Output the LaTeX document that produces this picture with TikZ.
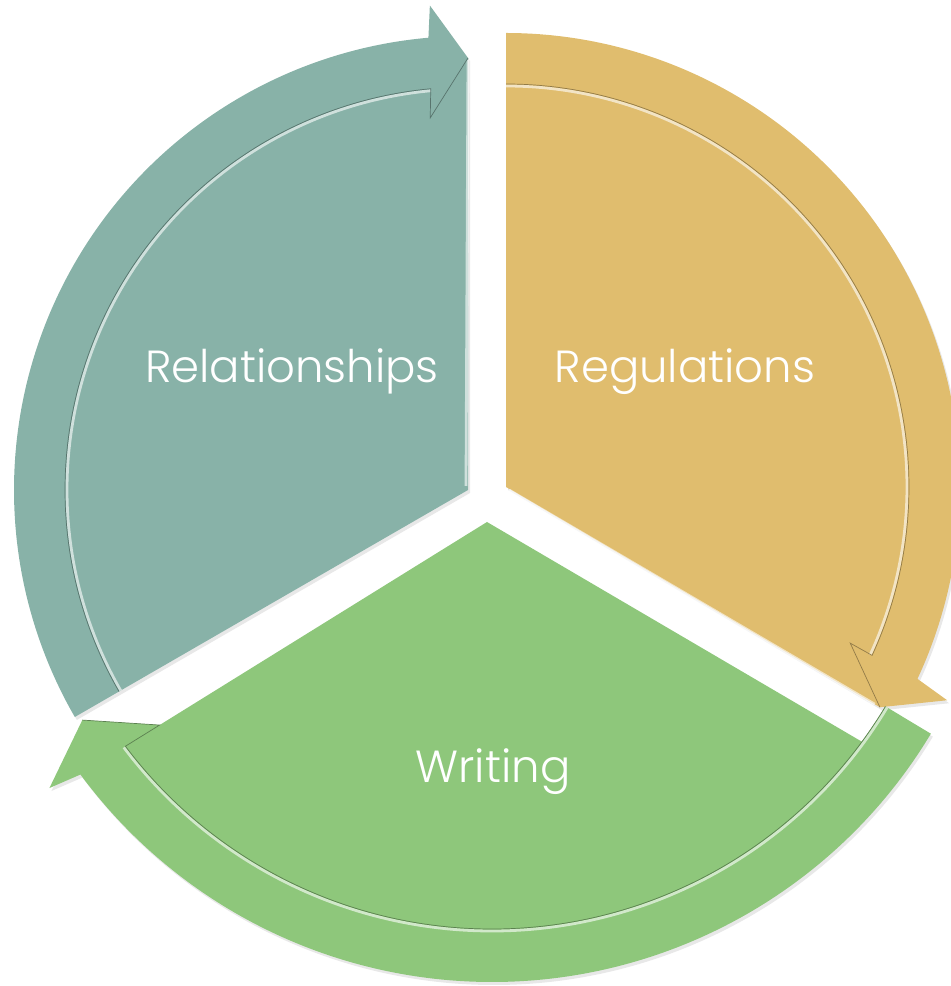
\documentclass[tikz,border=0pt]{standalone}
\usepackage{fontspec}
\setmainfont{Poppins}[UprightFont=* Light]
\usetikzlibrary{shadows}
\definecolor{relcol}{HTML}{88B2A8}
\definecolor{regcol}{HTML}{E0BD6E}
\definecolor{wricol}{HTML}{8EC77B}
\begin{document}
\begin{tikzpicture}[x=.5pt,y=.5pt,
	seg/.style={fill=#1,drop shadow={opacity=.18,shadow xshift=1pt,shadow yshift=-1.5pt}},
	rim/.style={draw=#1!65!black,line width=.35pt},
	shine/.style={draw=white,opacity=.6,line width=1.4pt,line join=round},
	lbl/.style={text=white,anchor=base,font=\fontsize{22.5}{27}\selectfont}]
	\useasboundingbox(0,0)rectangle(951,986);
	\begin{scope}[shift={(468,496)}]
		\path[seg=relcol](0,0)--(210:454)arc[start angle=210,end angle=95,radius=454]--(94.5:486)--(90:432)--cycle;
		\draw[shine](-2,4)--(90:430);
		\draw[shine](210:401)arc[start angle=210,end angle=95.3,radius=401];
		\draw[rim=relcol](210:403)arc[start angle=210,end angle=95.3,radius=403]--(95.8:374)--(90:432);
	\end{scope}
	\begin{scope}[shift={(506,499)}]
		\path[seg=regcol](0,0)--(90:454)arc[start angle=90,end angle=-25,radius=454]--(-25.8:490)--(-30.5:434)--cycle;
		\draw[shine](3,-3)--(-30.5:428);
		\draw[shine](90:401)arc[start angle=90,end angle=-24.7,radius=401];
		\draw[rim=regcol](90:403)arc[start angle=90,end angle=-24.7,radius=403]--(-24.4:378)--(-30.5:434);
	\end{scope}
	\begin{scope}[shift={(492,516)}]
		\path[seg=wricol](-5,-52)--(-36.3:459)arc[start angle=-36.3,end angle=-31,radius=459]--(-31:512)arc[start angle=-31,end angle=-143.5,radius=512]--(-144.3:545)--(-148.6:480)--(-142.5:419)--cycle;
		\draw[shine](-31:461)arc[start angle=-31,end angle=-143,radius=461];
		\draw[rim=wricol](-31:459)arc[start angle=-31,end angle=-143,radius=459]--(-142.5:419)--(-148.6:480);
	\end{scope}
	\node[lbl](rel)at(292,603){Relationships};
	\node[lbl](reg)at(685,603){Regulations};
	\node[lbl](wri)at(493,203){Writing};
\end{tikzpicture}
\end{document}
